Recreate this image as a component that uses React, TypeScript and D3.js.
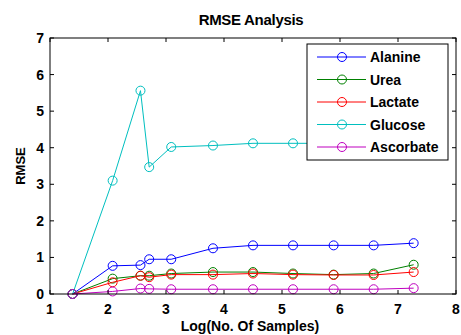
import React, { useRef, useEffect } from "react";
import * as d3 from "d3";

// log of the number of samples
const logSamples = [1.39, 2.08, 2.56, 2.71, 3.09, 3.81, 4.5, 5.19, 5.89, 6.58, 7.27];

const alanine = [0, 0.77, 0.79, 0.95, 0.95, 1.25, 1.33, 1.33, 1.33, 1.33, 1.39];
const urea = [0, 0.42, 0.5, 0.5, 0.56, 0.6, 0.6, 0.56, 0.53, 0.56, 0.8];
const lactate = [0, 0.32, 0.5, 0.46, 0.53, 0.53, 0.56, 0.53, 0.52, 0.52, 0.6];
const glucose = [0, 3.1, 5.56, 3.47, 4.02, 4.06, 4.12, 4.12, 4.12, 4.12, 4.12];
const ascorbate = [0, 0.07, 0.15, 0.14, 0.13, 0.13, 0.13, 0.13, 0.13, 0.13, 0.16];

const seriesNames = ["Alanine", "Urea", "Lactate", "Glucose", "Ascorbate"];
const seriesColors = ["#0000ff", "#008000", "#ff0000", "#00bfbf", "#bf00bf"];

const xTicks = [1, 2, 3, 4, 5, 6, 7, 8];
const yTicks = [0, 1, 2, 3, 4, 5, 6, 7];

const FONT = "'Liberation Sans', Arial, Helvetica, sans-serif";

export default function App() {
  const svgRef = useRef<SVGSVGElement | null>(null);

  useEffect(() => {
    if (!svgRef.current) return;
    const svg = d3.select(svgRef.current);
    svg.selectAll("*").remove();

    const width = 461;
    const height = 335;
    const margin = { top: 38, right: 5, bottom: 41, left: 50 };

    const x = d3.scaleLinear().domain([1, 8]).range([margin.left, width - margin.right]);
    const y = d3.scaleLinear().domain([0, 7]).range([height - margin.bottom, margin.top]);

    svg.append("rect").attr("width", width).attr("height", height).attr("fill", "#fff");

    const series = [alanine, urea, lactate, glucose, ascorbate].map((vals, i) => ({
      name: seriesNames[i],
      color: seriesColors[i],
      points: vals.map((v, j) => [logSamples[j], v] as [number, number]),
    }));

    const line = d3
      .line<[number, number]>()
      .x((d) => x(d[0]))
      .y((d) => y(d[1]));

    const plot = svg.append("g");
    series.forEach((s) => {
      const g = plot.append("g");
      g.append("path")
        .attr("d", line(s.points))
        .attr("fill", "none")
        .attr("stroke", s.color)
        .attr("stroke-width", 1);
      g.selectAll("circle")
        .data(s.points)
        .enter()
        .append("circle")
        .attr("cx", (d) => x(d[0]))
        .attr("cy", (d) => y(d[1]))
        .attr("r", 4.5)
        .attr("fill", "none")
        .attr("stroke", s.color)
        .attr("stroke-width", 1);
    });

    // axes box with inward ticks on all sides
    const x0 = x(1), x1 = x(8), y0 = y(0), y1 = y(7);
    const tl = 4;
    const axis = svg.append("g").attr("stroke", "#000").attr("stroke-width", 1);
    axis
      .append("rect")
      .attr("x", x0)
      .attr("y", y1)
      .attr("width", x1 - x0)
      .attr("height", y0 - y1)
      .attr("fill", "none");
    xTicks.forEach((t) => {
      axis.append("line").attr("x1", x(t)).attr("x2", x(t)).attr("y1", y0).attr("y2", y0 - tl);
      axis.append("line").attr("x1", x(t)).attr("x2", x(t)).attr("y1", y1).attr("y2", y1 + tl);
    });
    yTicks.forEach((t) => {
      axis.append("line").attr("x1", x0).attr("x2", x0 + tl).attr("y1", y(t)).attr("y2", y(t));
      axis.append("line").attr("x1", x1).attr("x2", x1 - tl).attr("y1", y(t)).attr("y2", y(t));
    });

    const text = svg.append("g").attr("font-family", FONT).attr("font-weight", "bold").attr("fill", "#000");

    text
      .selectAll(".xt")
      .data(xTicks)
      .enter()
      .append("text")
      .attr("x", (d) => x(d))
      .attr("y", y0 + 20)
      .attr("text-anchor", "middle")
      .attr("font-size", 14)
      .text((d) => d);

    text
      .selectAll(".yt")
      .data(yTicks)
      .enter()
      .append("text")
      .attr("x", x0 - 6)
      .attr("y", (d) => y(d) + 5)
      .attr("text-anchor", "end")
      .attr("font-size", 14)
      .text((d) => d);

    text
      .append("text")
      .attr("x", 251)
      .attr("y", 25)
      .attr("text-anchor", "middle")
      .attr("font-size", 15)
      .attr("letter-spacing", -0.3)
      .text("RMSE Analysis");

    text
      .append("text")
      .attr("x", 250)
      .attr("y", 331)
      .attr("text-anchor", "middle")
      .attr("font-size", 14)
      .text("Log(No. Of Samples)");

    text
      .append("text")
      .attr("transform", `translate(25,${(y0 + y1) / 2}) rotate(-90)`)
      .attr("text-anchor", "middle")
      .attr("font-size", 13)
      .text("RMSE");

    // legend
    const legend = svg.append("g");
    legend
      .append("rect")
      .attr("x", 307)
      .attr("y", 44)
      .attr("width", 141)
      .attr("height", 116)
      .attr("fill", "#fff")
      .attr("stroke", "#000");
    series.forEach((s, i) => {
      const ly = 57 + i * 22.5;
      legend.append("line").attr("x1", 317).attr("x2", 366).attr("y1", ly).attr("y2", ly).attr("stroke", s.color);
      legend
        .append("circle")
        .attr("cx", 342)
        .attr("cy", ly)
        .attr("r", 4.5)
        .attr("fill", "none")
        .attr("stroke", s.color);
      legend
        .append("text")
        .attr("x", 370)
        .attr("y", ly + 5)
        .attr("font-family", FONT)
        .attr("font-weight", "bold")
        .attr("font-size", 14)
        .text(s.name);
    });
  }, []);

  return (
    <div style={{ position: "absolute", left: 0, top: 0 }}>
      <svg ref={svgRef} width={461} height={335} style={{ display: "block" }} />
    </div>
  );
}
